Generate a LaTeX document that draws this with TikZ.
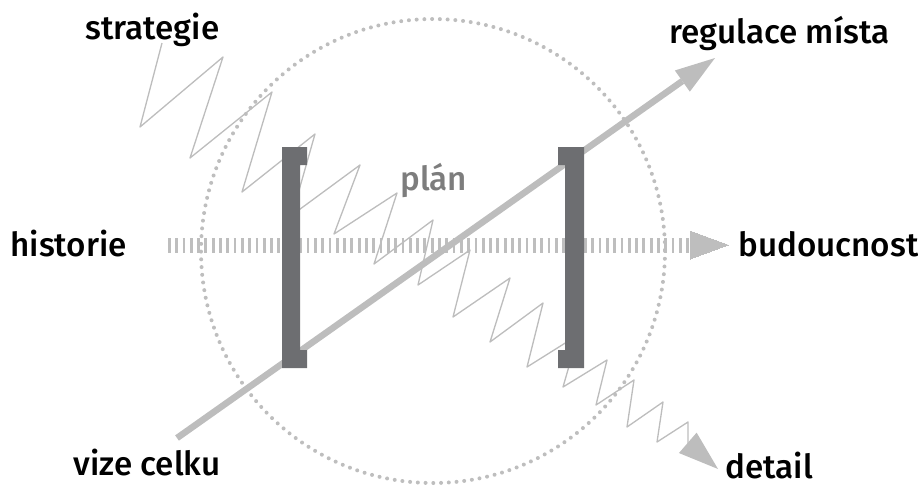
\documentclass[tikz,border=0pt]{standalone}
\usepackage{fontspec}
\setmainfont{Fira Sans Medium}
\usetikzlibrary{arrows.meta}
\definecolor{bargray}{HTML}{6D6E71}
\definecolor{linegray}{HTML}{BDBDBD}
\definecolor{dotgray}{HTML}{BEBEBE}
\definecolor{plangray}{HTML}{7D7D7D}
\tikzstyle{word} = [anchor=base west, inner sep=0pt, font=\fontsize{18.9}{23}\selectfont]
\tikzstyle{bracket} = [fill=bargray, draw=none]
\tikzstyle{zig} = [draw=linegray, line width=0.75pt, line join=round]
\tikzstyle{zigtip} = [-{Triangle[length=0.8cm, width=0.54cm, line width=0pt]}]
\tikzstyle{ring} = [draw=dotgray, line width=0.08cm, line cap=round, dash pattern=on 0pt off 0.155cm]
\tikzstyle{hatch} = [draw=dotgray, line width=0.3cm, dash pattern=on 0.056cm off 0.09cm]
\tikzstyle{hatchtip} = [draw=dotgray, fill=dotgray, line width=0pt]
\tikzstyle{bigarrow} = [draw=linegray, line width=0.13cm, -{Triangle[length=0.8cm, width=0.52cm, line width=0pt]}]

\begin{document}
\begin{tikzpicture}[x=0.02cm, y=-0.02cm]
\useasboundingbox (0,0) rectangle (918,488);

% dotted circle
\draw[ring] (433,251) circle [radius=232];

% time axis
\coordinate (hs) at (168,245);
\coordinate (hb) at (690,245);
\coordinate (he) at (728,245);
\draw[hatch] (hs) -- (hb);
\filldraw[hatchtip] (690,231) -- (he) -- (690,259) -- cycle;

% zigzag strategie -> detail
\coordinate (zs) at (162,43);
\coordinate (ze) at (718,469);
\draw[zig, zigtip] (zs) -- (140,127) -- (223,57) -- (190,158) -- (272,92)
  -- (242,192) -- (315,134) -- (292,215) -- (360,165) -- (334,234)
  -- (397,193) -- (374,264) -- (433,220) -- (418,285) -- (470,250)
  -- (453,317) -- (510,278) -- (490,342) -- (543,303) -- (527,367)
  -- (578,335) -- (563,387) -- (607,360) -- (596,405) -- (634,380)
  -- (627,427) -- (663,402) -- (657,442) -- (688,422) -- (688,443) -- (ze);

% vize celku -> regulace mista
\coordinate (vs) at (177,438);
\coordinate (ve) at (715,58);
\draw[bigarrow] (vs) -- (ve);

% brackets
\fill[bracket] (282,147) -- (307,147) -- (307,165) -- (300,165) -- (300,350)
  -- (307,350) -- (307,368) -- (282,368) -- cycle;
\fill[bracket] (584,147) -- (558,147) -- (558,165) -- (565,165) -- (565,350)
  -- (558,350) -- (558,368) -- (584,368) -- cycle;

% labels
\node (strat) [word] at (85,39) {strategie};
\node (regul) [word] at (669,43) {regulace místa};
\node (hist) [word] at (10,256) {historie};
\node (budouc) [word] at (738,256) {budoucnost};
\node (vize) [word] at (73,475) {vize celku};
\node (detail) [word] at (725,478) {detail};
\node (plan) [word, text=plangray] at (400,190) {plán};
\end{tikzpicture}
\end{document}
